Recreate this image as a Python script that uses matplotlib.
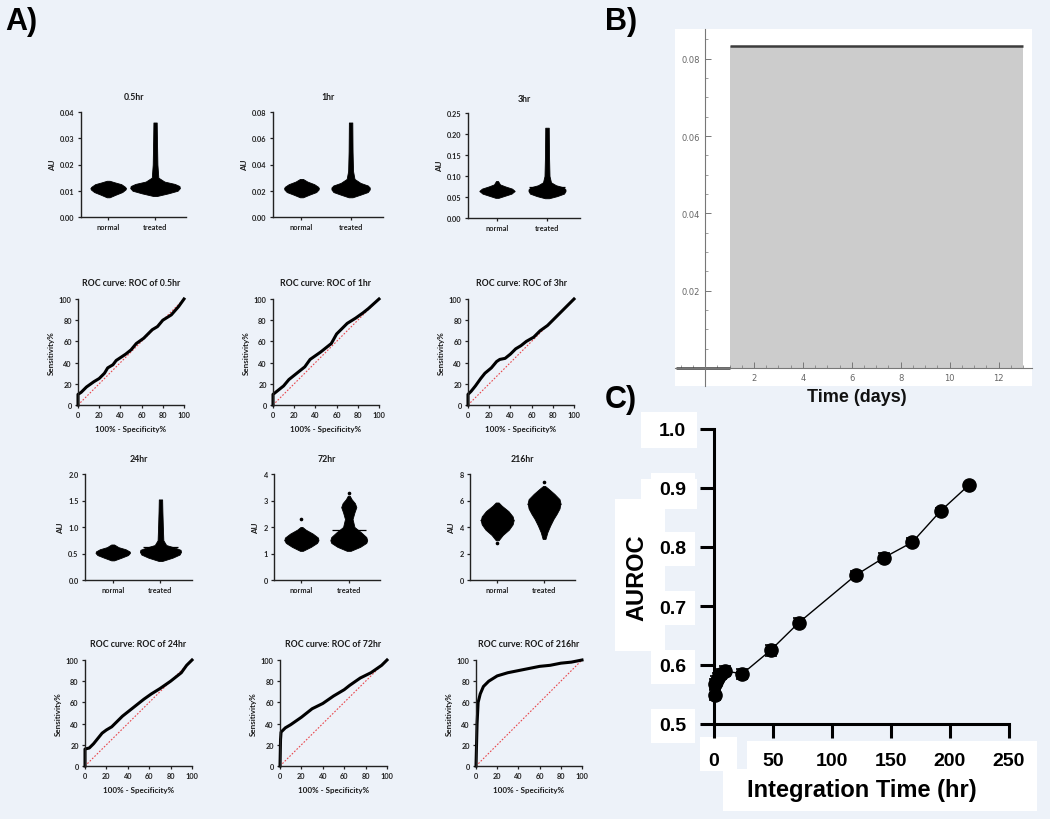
import matplotlib
matplotlib.use('Agg')
import matplotlib.pyplot as plt
from matplotlib.patches import Rectangle
from matplotlib.ticker import MultipleLocator, FormatStrFormatter

W, H = 1050, 820
BG = '#EDF2F9'
plt.rcParams['font.family'] = ['Lato', 'DejaVu Sans']

# ---------------- panel A: swarm shapes (level, half-width) ----------------
hour_labels = ["0.5hr", "1hr", "3hr", "24hr", "72hr", "216hr"]
groups = ["normal", "treated"]
au_top = [0.04, 0.08, 0.25, 2.0, 4, 8]
au_step = [0.01, 0.02, 0.05, 0.5, 1, 2]
au_fmt = ['%.2f', '%.2f', '%.2f', '%.1f', '%d', '%d']

n05_y = [0.0075, 0.0085, 0.0095, 0.0105, 0.011, 0.0115, 0.0125, 0.0132, 0.0138]
n05_w = [0.03, 0.16, 0.30, 0.37, 0.38, 0.36, 0.28, 0.14, 0.03]
t05_y = [0.0080, 0.0090, 0.0100, 0.0110, 0.0118, 0.0126, 0.0135, 0.0150, 0.0200, 0.0300, 0.0360]
t05_w = [0.04, 0.28, 0.48, 0.53, 0.52, 0.42, 0.20, 0.07, 0.05, 0.04, 0.035]

n1_y = [0.015, 0.017, 0.019, 0.021, 0.022, 0.023, 0.025, 0.027, 0.029]
n1_w = [0.03, 0.16, 0.30, 0.35, 0.35, 0.34, 0.26, 0.12, 0.03]
t1_y = [0.015, 0.017, 0.019, 0.021, 0.0225, 0.024, 0.026, 0.029, 0.035, 0.050, 0.072]
t1_w = [0.04, 0.20, 0.35, 0.39, 0.39, 0.35, 0.20, 0.08, 0.05, 0.04, 0.035]

n3_y = [0.048, 0.053, 0.058, 0.063, 0.066, 0.070, 0.075, 0.080, 0.088]
n3_w = [0.03, 0.16, 0.29, 0.34, 0.34, 0.30, 0.17, 0.06, 0.02]
t3_y = [0.047, 0.052, 0.058, 0.064, 0.068, 0.073, 0.078, 0.085, 0.10, 0.15, 0.215]
t3_w = [0.04, 0.20, 0.34, 0.37, 0.37, 0.33, 0.18, 0.08, 0.05, 0.04, 0.035]

n24_y = [0.37, 0.42, 0.47, 0.51, 0.54, 0.58, 0.62, 0.67]
n24_w = [0.03, 0.18, 0.32, 0.36, 0.35, 0.27, 0.12, 0.03]
t24_y = [0.36, 0.42, 0.48, 0.53, 0.57, 0.61, 0.66, 0.75, 1.0, 1.3, 1.52]
t24_w = [0.04, 0.25, 0.40, 0.43, 0.42, 0.30, 0.12, 0.06, 0.05, 0.04, 0.035]

n72_y = [1.10, 1.25, 1.40, 1.50, 1.60, 1.75, 1.90, 2.00]
n72_w = [0.03, 0.20, 0.33, 0.36, 0.35, 0.24, 0.09, 0.02]
t72_y = [1.10, 1.25, 1.40, 1.50, 1.62, 1.80, 2.00, 2.30, 2.55, 2.75, 2.90, 3.05, 3.18]
t72_w = [0.04, 0.24, 0.37, 0.39, 0.37, 0.26, 0.12, 0.08, 0.12, 0.16, 0.13, 0.06, 0.02]

n216_y = [3.0, 3.4, 3.8, 4.2, 4.5, 4.8, 5.2, 5.6, 5.85]
n216_w = [0.03, 0.12, 0.25, 0.33, 0.35, 0.33, 0.24, 0.10, 0.03]
t216_y = [3.1, 3.6, 4.1, 4.6, 5.0, 5.4, 5.8, 6.1, 6.5, 6.9, 7.1]
t216_w = [0.03, 0.07, 0.13, 0.20, 0.27, 0.33, 0.35, 0.33, 0.22, 0.09, 0.02]

normal_shapes = [(n05_y, n05_w), (n1_y, n1_w), (n3_y, n3_w), (n24_y, n24_w), (n72_y, n72_w), (n216_y, n216_w)]
treated_shapes = [(t05_y, t05_w), (t1_y, t1_w), (t3_y, t3_w), (t24_y, t24_w), (t72_y, t72_w), (t216_y, t216_w)]
normal_mean = [0.011, 0.022, 0.065, 0.52, 1.52, 4.5]
treated_mean = [0.0118, 0.0235, 0.073, 0.625, 1.87, 5.7]
normal_outlier = [None, None, None, None, 2.3, 2.8]
treated_outlier = [None, None, None, None, 3.3, 7.4]

# ---------------- panel A: ROC curves ----------------
roc05_x = [0, 0, 3, 8, 15, 20, 25, 28, 33, 36, 45, 50, 55, 62, 70, 75, 80, 88, 95, 100]
roc05_y = [0, 10, 12, 17, 22, 25, 30, 35, 38, 42, 48, 52, 58, 63, 71, 74, 80, 85, 93, 100]
roc1_x = [0, 0, 5, 10, 15, 20, 30, 35, 45, 50, 55, 60, 70, 78, 85, 90, 100]
roc1_y = [0, 10, 14, 18, 24, 28, 36, 43, 50, 54, 58, 67, 77, 82, 87, 91, 100]
roc3_x = [0, 0, 3, 7, 12, 16, 22, 27, 30, 35, 40, 45, 50, 55, 62, 68, 75, 82, 90, 100]
roc3_y = [0, 10, 13, 18, 25, 30, 35, 41, 43, 44, 48, 53, 56, 60, 64, 70, 75, 82, 90, 100]
roc24_x = [0, 0, 4, 8, 12, 16, 20, 25, 30, 35, 40, 45, 50, 55, 62, 70, 80, 90, 95, 100]
roc24_y = [0, 16, 17, 21, 26, 31, 34, 37, 42, 47, 51, 55, 59, 63, 68, 73, 80, 88, 95, 100]
roc72_x = [0, 0.5, 1, 5, 10, 20, 25, 30, 40, 50, 60, 65, 75, 85, 95, 100]
roc72_y = [0, 25, 32, 36, 39, 46, 50, 54, 59, 66, 72, 76, 83, 88, 95, 100]
roc216_x = [0, 1, 2, 4, 7, 12, 20, 30, 40, 50, 60, 70, 80, 90, 100]
roc216_y = [0, 40, 60, 68, 75, 80, 85, 88, 90, 92, 94, 95, 97, 98, 100]
roc_curves = [(roc05_x, roc05_y), (roc1_x, roc1_y), (roc3_x, roc3_y),
              (roc24_x, roc24_y), (roc72_x, roc72_y), (roc216_x, roc216_y)]
chance = [0, 100]

# ---------------- panel B: step input ----------------
b_days = [-1.2, 1.0, 1.0, 13.0]
b_level = [0.0, 0.0, 0.0833, 0.0833]

# ---------------- panel C: AUROC vs integration time ----------------
c_hours = [0.5, 1, 2, 3, 6, 9, 24, 48, 72, 120, 144, 168, 192, 216]
c_auroc = [0.55, 0.567, 0.572, 0.578, 0.585, 0.59, 0.585, 0.625, 0.672, 0.752, 0.782, 0.808, 0.861, 0.905]
c_err = [0.010, 0.010, 0.009, 0.009, 0.009, 0.009, 0.009, 0.009, 0.008, 0.007, 0.007, 0.007, 0.005, 0.004]


def px_rect(x0, y0, x1, y1):
    return [x0 / W, 1 - y1 / H, (x1 - x0) / W, (y1 - y0) / H]


def graphpad_axes(ax):
    for s in ['top', 'right']:
        ax.spines[s].set_visible(False)
    for s in ['left', 'bottom']:
        ax.spines[s].set_linewidth(1.0)
        ax.spines[s].set_color('#222222')
    ax.tick_params(labelsize=5.3, length=2.5, width=0.9, colors='#222222', pad=2)
    for lab in ax.get_xticklabels() + ax.get_yticklabels():
        lab.set_fontweight('bold')


fig = plt.figure(figsize=(W / 100, H / 100), dpi=100, facecolor=BG)

swarm_boxes = [(81, 113, 186, 218), (273, 113, 383, 218), (468, 114, 580, 219),
               (85, 475, 192, 581), (274, 475, 380, 581), (470, 475, 575, 581)]
roc_boxes = [(78, 300, 184, 406), (273, 300, 379, 406), (468, 300, 574, 406),
             (85, 661, 192, 767), (280, 661, 387, 767), (476, 661, 582, 767)]

TXT = '#1a1a1a'
for i in range(6):
    # swarm
    ax = fig.add_axes(px_rect(*swarm_boxes[i]))
    ax.patch.set_alpha(0)
    for pos, shape, m, out in [(0, normal_shapes[i], normal_mean[i], normal_outlier[i]),
                               (1, treated_shapes[i], treated_mean[i], treated_outlier[i])]:
        ys, ws = shape
        ax.fill_betweenx(ys, [pos - w for w in ws], [pos + w for w in ws],
                         color='black', lw=0.6, edgecolor='black')
        ax.hlines(m, pos - 0.36, pos + 0.36, color='black', lw=0.9)
        if out is not None:
            ax.plot([pos], [out], 'o', ms=1.6, color='black')
    ax.set_xlim(-0.58, 1.66)
    ax.set_ylim(0, au_top[i])
    ax.set_xticks([0, 1])
    ax.set_xticklabels(groups)
    ax.yaxis.set_major_locator(MultipleLocator(au_step[i]))
    ax.yaxis.set_major_formatter(FormatStrFormatter(au_fmt[i]))
    ax.set_ylabel('AU', fontsize=5.8, fontweight='bold', color=TXT, labelpad=3)
    ax.set_title(hour_labels[i], fontsize=6.3, fontweight='bold', color=TXT, pad=9)
    graphpad_axes(ax)

    # ROC
    ax = fig.add_axes(px_rect(*roc_boxes[i]))
    ax.patch.set_alpha(0)
    ax.plot(chance, chance, ls=(0, (1.5, 1.5)), color='#E8474C', lw=0.8)
    rx, ry = roc_curves[i]
    ax.plot(rx, ry, color='black', lw=2.2, clip_on=False, solid_joinstyle='round')
    ax.set_xlim(0, 100)
    ax.set_ylim(0, 100)
    ax.xaxis.set_major_locator(MultipleLocator(20))
    ax.yaxis.set_major_locator(MultipleLocator(20))
    ax.set_xlabel('100% - Specificity%', fontsize=5.8, fontweight='bold', color=TXT, labelpad=5)
    ax.set_ylabel('Sensitivity%', fontsize=5.8, fontweight='bold', color=TXT, labelpad=3)
    ax.set_title('ROC curve: ROC of ' + hour_labels[i], fontsize=6.3,
                 fontweight='bold', color=TXT, pad=10)
    graphpad_axes(ax)

# ---------------- panel B ----------------
axb = fig.add_axes(px_rect(675, 30, 1032, 387), facecolor='white')
axb.fill_between(b_days, b_level, color='#CCCCCC', lw=0)
axb.plot(b_days[:2], b_level[:2], color='#3c3c3c', lw=1.8, solid_capstyle='butt')
axb.plot(b_days[2:], b_level[2:], color='#3c3c3c', lw=1.8, solid_capstyle='butt')
axb.set_xlim(-1.23, 13.37)
axb.set_ylim(-0.0047, 0.0877)
for s in ['top', 'right']:
    axb.spines[s].set_visible(False)
axb.spines['left'].set_position(('data', 0))
axb.spines['bottom'].set_position(('data', 0))
for s in ['left', 'bottom']:
    axb.spines[s].set_color('#777777')
    axb.spines[s].set_linewidth(0.8)
axb.set_xticks([2, 4, 6, 8, 10, 12])
axb.xaxis.set_minor_locator(MultipleLocator(0.5))
axb.set_yticks([0.02, 0.04, 0.06, 0.08])
axb.yaxis.set_major_formatter(FormatStrFormatter('%.2f'))
axb.yaxis.set_minor_locator(MultipleLocator(0.005))
axb.tick_params(axis='both', which='major', direction='in', length=4, width=0.7,
                colors='#777777', labelsize=6, labelcolor='#666666')
axb.tick_params(axis='both', which='minor', direction='in', length=2, width=0.5,
                colors='#777777')
axb.tick_params(axis='x', which='both', direction='in', pad=4)
for lab in axb.get_xticklabels() + axb.get_yticklabels():
    lab.set_family(['DejaVu Sans'])
fig.text(857 / W, 1 - 398 / H, 'Time (days)', ha='center', va='center',
         fontsize=13, fontweight='bold', family=['Liberation Sans'], color='#111111')

# ---------------- panel C ----------------
for (x0, y0, x1, y1) in [(747, 742, 1037, 770), (700, 738, 737, 772), (723, 770, 1037, 812),
                         (615, 500, 665, 652), (641, 413, 697, 449), (641, 480, 697, 510)]:
    fig.add_artist(Rectangle((x0 / W, 1 - y1 / H), (x1 - x0) / W, (y1 - y0) / H,
                             transform=fig.transFigure, facecolor='white',
                             edgecolor='none', zorder=-1))

axc = fig.add_axes(px_rect(714, 430, 1009, 725))
axc.patch.set_alpha(0)
axc.errorbar(c_hours, c_auroc, yerr=c_err, fmt='o-', color='black', ms=9.5, lw=1.0,
             elinewidth=1.2, capsize=4, capthick=1.2, clip_on=False, zorder=3)
axc.set_xlim(0, 250)
axc.set_ylim(0.5, 1.0)
axc.set_xticks([0, 50, 100, 150, 200, 250])
axc.set_yticks([0.5, 0.6, 0.7, 0.8, 0.9, 1.0])
axc.yaxis.set_major_formatter(FormatStrFormatter('%.1f'))
for s in ['top', 'right']:
    axc.spines[s].set_visible(False)
for s in ['left', 'bottom']:
    axc.spines[s].set_linewidth(2.2)
axc.tick_params(length=10, width=2.2, labelsize=14, pad=10)
for lab in axc.get_xticklabels() + axc.get_yticklabels():
    lab.set_family(['Liberation Sans'])
    lab.set_fontweight('bold')
for lab in axc.get_yticklabels():
    lab.set_bbox(dict(facecolor='white', edgecolor='none', pad=6))
axc.set_xlabel('Integration Time (hr)', fontsize=17, fontweight='bold',
               family=['Liberation Sans'], labelpad=7)
axc.set_ylabel('AUROC', fontsize=17, fontweight='bold', family=['Liberation Sans'],
               labelpad=8)

# panel letters
for x, y, t in [(5, 22, 'A)'), (605, 22, 'B)'), (605, 400, 'C)')]:
    fig.text(x / W, 1 - y / H, t, fontsize=22, fontweight='bold',
             family=['Liberation Sans'], va='center', ha='left')

fig.savefig('out.png', dpi=100, facecolor=BG)
